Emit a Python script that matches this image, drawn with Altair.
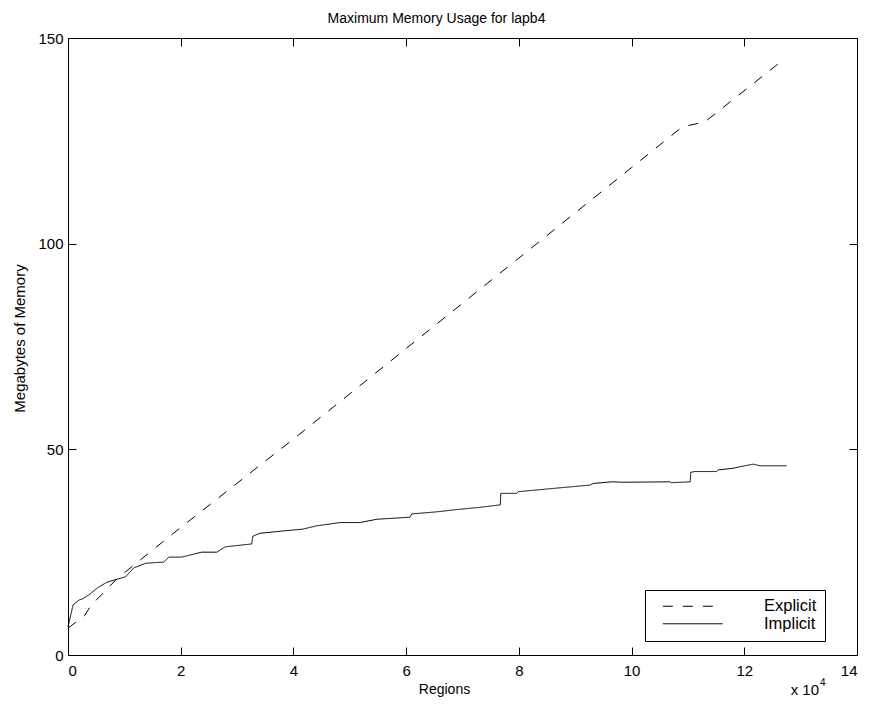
import altair as alt
import pandas as pd

# ---- data (x in regions, y in MB) ----
series_names = ["Explicit", "Implicit"]

exp_x = [0, 3000, 4000, 5200, 7600, 9000, 10000, 20000, 40000, 60000, 80000,
         100000, 109000, 113000, 127200]
exp_y = [6.5, 9.7, 11.9, 13.6, 17.0, 19.0, 20.0, 31.0, 52.5, 74.5, 96.5,
         118.5, 128.4, 129.6, 145.0]

imp_x = [0, 900, 2000, 2500, 3700, 5200, 6900, 8700, 10200, 11700, 13800,
         17000, 17900, 20200, 23700, 26400, 27900, 32600, 32800, 34100,
         38500, 41700, 44100, 48300, 51800, 54800, 60700, 61000, 65400,
         68600, 73100, 76700, 76800, 79600, 79900, 86100, 92600, 93200,
         96500, 98500, 106800, 107100, 110400, 110500, 111200, 115100,
         115400, 118000, 120100, 121600, 122800, 127500]
imp_y = [6.8, 12.2, 13.4, 13.6, 14.6, 16.3, 17.7, 18.4, 19.0, 21.2, 22.3,
         22.6, 23.8, 23.8, 25.0, 25.0, 26.3, 27.0, 28.9, 29.6,
         30.2, 30.6, 31.4, 32.2, 32.2, 33.0, 33.5, 34.3, 34.8,
         35.3, 35.9, 36.5, 39.3, 39.3, 39.7, 40.5, 41.3, 41.7,
         42.1, 42.0, 42.1, 41.9, 42.1, 44.4, 44.6, 44.6,
         45.0, 45.4, 46.0, 46.4, 46.0, 46.0]

x_ticks = [0, 20000, 40000, 60000, 80000, 100000, 120000, 140000]
y_ticks = [0, 50, 100, 150]

title_text = "Maximum Memory Usage for lapb4"
x_title = "Regions"
y_title = "Megabytes of Memory"

rows = []
for i, (x, y) in enumerate(zip(exp_x, exp_y)):
    rows.append({"series": series_names[0], "x": x, "y": y, "idx": i})
for i, (x, y) in enumerate(zip(imp_x, imp_y)):
    rows.append({"series": series_names[1], "x": x, "y": y, "idx": i})
df = pd.DataFrame(rows)

FONT = "Liberation Sans"
W, H = 789, 617

xscale = alt.Scale(domain=[0, 140000], nice=False, zero=False)
yscale = alt.Scale(domain=[0, 150], nice=False)
inward = {"expr": "-8"}
NB = "\u00a0" * 8

lines = alt.Chart(df).mark_line(color="black", strokeWidth=1).encode(
    x=alt.X("x:Q", scale=xscale,
            axis=alt.Axis(orient="bottom", values=x_ticks,
                          labelExpr="datum.value / 10000",
                          title=x_title, titleFontSize=14, tickSize=inward,
                          labelPadding=16, titlePadding=4, titleX=376,
                          grid=False, domain=False)),
    y=alt.Y("y:Q", scale=yscale,
            axis=alt.Axis(orient="left", values=y_ticks, title=y_title,
                          tickSize=inward, labelPadding=13, titlePadding=10,
                          titleY=300, grid=False, domain=False)),
    strokeDash=alt.StrokeDash(
        "series:N",
        scale=alt.Scale(domain=series_names, range=[[10, 10], [1, 0]]),
        legend=alt.Legend(
            title=None, orient="none", legendX=577, legendY=552,
            padding=8, strokeColor="black", fillColor="white",
            cornerRadius=0, symbolType="M-4.6,0H4.6", symbolSize=169,
            symbolStrokeColor="black", symbolStrokeWidth=1,
            symbolOffset=31.5, labelOffset=63, labelFont=FONT,
            labelFontSize=16.5, labelColor="black", rowPadding=0.5,
            labelExpr="datum.label + '" + NB + "'")),
    order=alt.Order("idx:Q"),
)

frame = alt.Chart(df).mark_point(opacity=0).encode(
    x=alt.X("x:Q", scale=xscale,
            axis=alt.Axis(orient="top", values=x_ticks, labels=False,
                          title=None, tickSize=inward, grid=False,
                          domain=False)),
    y=alt.Y("y:Q", scale=yscale,
            axis=alt.Axis(orient="right", values=y_ticks, labels=False,
                          title=None, tickSize=inward, grid=False,
                          domain=False)),
)

exp_label = alt.Chart(pd.DataFrame({"t": ["x 10"]})).mark_text(
    font=FONT, fontSize=15, align="right", baseline="alphabetic",
    color="black").encode(text="t:N", x=alt.value(W - 38), y=alt.value(H + 40))
exp_sup = alt.Chart(pd.DataFrame({"t": ["4"]})).mark_text(
    font=FONT, fontSize=10, align="left", baseline="alphabetic",
    color="black").encode(text="t:N", x=alt.value(W - 37), y=alt.value(H + 31))

chart = alt.layer(lines, frame, exp_label, exp_sup).resolve_axis(
    x="independent", y="independent"
).properties(
    width=W, height=H, autosize="none", background="white",
    padding={"left": 60, "top": 30, "right": 6, "bottom": 50},
    title=alt.TitleParams(title_text, font=FONT, fontSize=14,
                          fontWeight="normal", color="black", offset=5,
                          dx=-26),
).configure_view(stroke="black", strokeWidth=1).configure_axis(
    labelFont=FONT, labelFontSize=15, labelColor="black",
    titleFont=FONT, titleFontSize=15, titleFontWeight="normal",
    titleColor="black", tickColor="black", tickWidth=1,
)

chart.save("out.html", embed_options={"renderer": "svg", "actions": False})
